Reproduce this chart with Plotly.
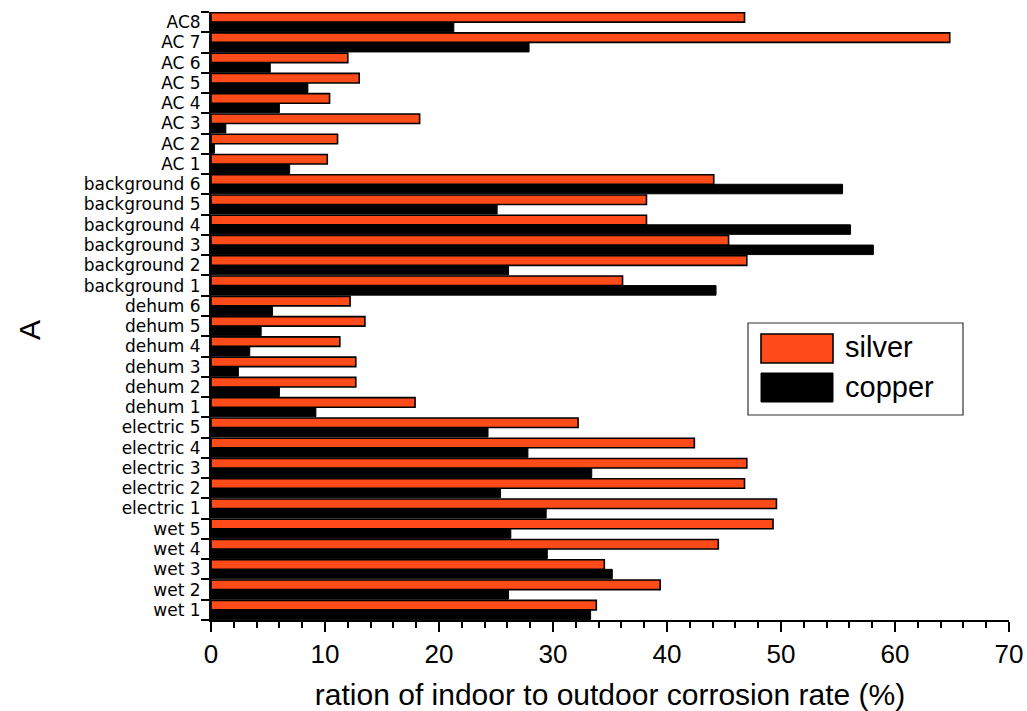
import plotly.graph_objects as go

categories = ["wet 1", "wet 2", "wet 3", "wet 4", "wet 5",
              "electric 1", "electric 2", "electric 3", "electric 4", "electric 5",
              "dehum 1", "dehum 2", "dehum 3", "dehum 4", "dehum 5", "dehum 6",
              "background 1", "background 2", "background 3", "background 4",
              "background 5", "background 6",
              "AC 1", "AC 2", "AC 3", "AC 4", "AC 5", "AC 6", "AC 7", "AC8"]

silver = [33.8, 39.4, 34.5, 44.5, 49.3,
          49.6, 46.8, 47.0, 42.4, 32.2,
          17.9, 12.7, 12.7, 11.3, 13.5, 12.2,
          36.1, 47.0, 45.4, 38.2, 38.2, 44.1,
          10.2, 11.1, 18.3, 10.4, 13.0, 12.0, 64.8, 46.8]

copper = [33.3, 26.1, 35.2, 29.5, 26.3,
          29.4, 25.4, 33.4, 27.8, 24.3,
          9.2, 6.0, 2.4, 3.4, 4.4, 5.4,
          44.3, 26.1, 58.1, 56.1, 25.1, 55.4,
          6.9, 0.3, 1.3, 6.0, 8.5, 5.2, 27.9, 21.3]

series_names = ["silver", "copper"]
x_title = "ration of indoor to outdoor corrosion rate (%)"
y_title = "A"

RED = "#FF4A1A"
FONT = "Liberation Sans, Arial, sans-serif"
YFONT = "DejaVu Sans, Liberation Sans, sans-serif"

fig = go.Figure()
fig.add_trace(go.Bar(y=categories, x=copper, orientation="h", name=series_names[1],
                     marker=dict(color="black", line=dict(color="black", width=1)),
                     showlegend=False))
fig.add_trace(go.Bar(y=categories, x=silver, orientation="h", name=series_names[0],
                     marker=dict(color=RED, line=dict(color="black", width=1.6)),
                     showlegend=False))

# plot area in pixels: x 211..1009, y 12..620
L, R, T, B = 211, 1009, 12, 620
W, H = R - L, B - T

def px(x):
    return (x - L) / W

def py(y):
    return (B - y) / H

shapes = [
    dict(type="rect", xref="paper", yref="paper", x0=px(748), x1=px(963), y0=py(415), y1=py(323),
         line=dict(color="#333333", width=1.2), fillcolor="white", layer="above"),
    dict(type="rect", xref="paper", yref="paper", x0=px(761), x1=px(833), y0=py(363), y1=py(334),
         line=dict(color="black", width=1.6), fillcolor=RED, layer="above"),
    dict(type="rect", xref="paper", yref="paper", x0=px(761), x1=px(833), y0=py(402), y1=py(373),
         line=dict(color="black", width=1), fillcolor="black", layer="above"),
]
annotations = [
    dict(text=series_names[0], xref="paper", yref="paper", x=px(843), y=py(347),
         xanchor="left", yanchor="middle", showarrow=False, font=dict(family=FONT, size=29, color="black")),
    dict(text=series_names[1], xref="paper", yref="paper", x=px(843), y=py(387),
         xanchor="left", yanchor="middle", showarrow=False, font=dict(family=FONT, size=29, color="black")),
    dict(text=y_title, xref="paper", yref="paper", x=px(29), y=py(330), textangle=-90,
         xanchor="center", yanchor="middle", showarrow=False, font=dict(family=FONT, size=30, color="black")),
]

fig.update_layout(
    width=1027, height=711,
    margin=dict(l=L, r=1027 - R, t=T, b=711 - B, autoexpand=False),
    paper_bgcolor="white", plot_bgcolor="white",
    barmode="group", bargap=0.06, bargroupgap=0,
    showlegend=False,
    font=dict(family=FONT, color="black"),
    shapes=shapes, annotations=annotations,
)

fig.update_xaxes(
    range=[0, 70], dtick=10, tick0=0,
    showgrid=False, zeroline=False, automargin=False,
    showline=True, linecolor="black", linewidth=2,
    ticks="outside", ticklen=10, tickwidth=2, tickcolor="black",
    minor=dict(dtick=2, ticks="outside", ticklen=6, tickwidth=2, tickcolor="black", showgrid=False),
    tickfont=dict(family=FONT, size=26, color="black"),
    title=dict(text=x_title, font=dict(family=FONT, size=30, color="black"), standoff=18),
)

fig.update_yaxes(
    type="category", categoryorder="array", categoryarray=categories,
    range=[-0.5, len(categories) - 0.5],
    tickmode="array", tickvals=categories, ticktext=categories,
    showgrid=False, zeroline=False, automargin=False,
    showline=True, linecolor="black", linewidth=2,
    ticks="outside", tickson="boundaries", ticklen=8, tickwidth=2, tickcolor="black",
    ticklabelstandoff=5,
    tickfont=dict(family=YFONT, size=17, color="black"),
)

fig.write_html("out.html")
